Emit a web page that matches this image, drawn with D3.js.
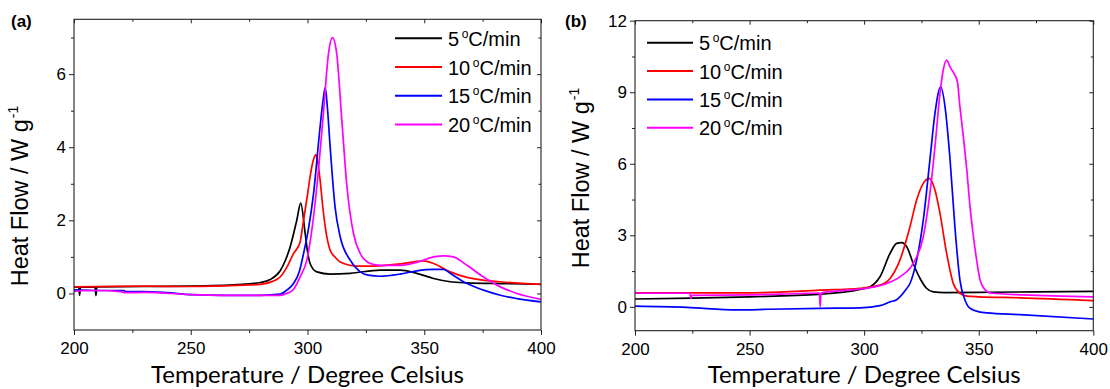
<!DOCTYPE html>
<html><head><meta charset="utf-8">
<script src="https://cdn.jsdelivr.net/npm/d3@7"></script>
<style>
body{margin:0;background:#fff}
svg{display:block}
text{font-family:Arial,"Liberation Sans",sans-serif;fill:#000}
</style>
</head><body>
<svg id="chart" width="1110" height="389"></svg>
<script>
// ---------- data ----------
const seriesLabels = ["5", "10", "15", "20"];
const seriesColors = ["#000000", "#ff0000", "#0000ff", "#ff00ff"];
const xTicks = [200, 250, 300, 350, 400];
const xMinorTicks = [225, 275, 325, 375];
const yTicksA = [0, 2, 4, 6];
const yMinorTicksA = [1, 3, 5, 7];
const yTicksB = [0, 3, 6, 9, 12];
const yMinorTicksB = [1.5, 4.5, 7.5, 10.5];

// panel (a): [temperature, heat flow]
const a5 = [[200,0.18],[202,0.17],[202.4,-0.05],[202.8,0.17],[209,0.18],[209.4,-0.06],[209.8,0.18],[230,0.19],[250,0.2],[270,0.24],[280,0.3],[284,0.38],[288.3,0.62],[290.5,0.9],[292.6,1.28],[295.4,2.0],[297.1,2.47],[299,1.64],[300,1.15],[301.1,0.82],[304,0.59],[309.7,0.53],[318.3,0.55],[331.1,0.64],[339.7,0.64],[346.8,0.55],[354,0.41],[361.1,0.32],[368.3,0.29],[382.6,0.27],[400,0.25]];
const a10 = [[200,0.18],[230,0.2],[250,0.19],[270,0.22],[279.7,0.25],[285,0.33],[288.3,0.45],[291,0.7],[294,1.09],[296.8,1.4],[298.3,2.0],[300,2.7],[301.1,3.19],[302.5,3.65],[303.6,3.8],[304.5,3.55],[305.4,3.1],[306.5,2.4],[307.6,1.82],[309.7,1.18],[312,0.98],[314,0.86],[321.1,0.75],[328.3,0.75],[339.7,0.81],[349.7,0.89],[354,0.82],[361.1,0.59],[368.3,0.44],[382.6,0.32],[400,0.25]];
const a15 = [[200,0.1],[210,0.08],[221.5,0.08],[222,0.05],[230,0.05],[240,0.02],[250,-0.03],[265,-0.05],[280,-0.05],[288.3,-0.02],[291.1,0.09],[294,0.27],[296.5,0.6],[298.3,1.09],[300.5,1.8],[302.6,2.74],[305.4,4.56],[306.7,5.3],[307.6,5.63],[308.5,5.1],[309.7,4.01],[311.8,2.37],[314,1.55],[318.3,0.91],[322.6,0.59],[326,0.5],[331.1,0.47],[339.7,0.53],[346.8,0.62],[354,0.66],[358.3,0.66],[361.1,0.55],[368.3,0.27],[375.4,0.09],[382.6,-0.05],[389.7,-0.14],[400,-0.23]];
const a20 = [[200,0.05],[205,0.08],[210,0.08],[220,0.05],[222,0.02],[230,0.03],[250,-0.03],[265,-0.05],[280,-0.05],[288.3,-0.05],[291.1,0.0],[294,0.11],[296.8,0.45],[299.7,0.91],[302,1.8],[304,2.92],[306.8,4.92],[309,6.57],[310.7,7.0],[312.5,6.57],[314.7,4.74],[316.9,2.92],[319.7,1.64],[322.6,1.09],[326.9,0.82],[331.1,0.77],[339.7,0.77],[346.8,0.85],[354,1.0],[358.3,1.03],[362.5,1.0],[368.3,0.77],[375.4,0.45],[382.6,0.18],[389.7,0.0],[400,-0.16]];

// panel (b)
const b5 = [[200,0.33],[225,0.37],[250,0.42],[280,0.52],[298.2,0.73],[302.6,0.84],[306.9,1.26],[311.3,2.24],[314.2,2.66],[316.3,2.69],[318.6,2.52],[321.4,1.82],[324.4,1.19],[327.2,0.78],[330.2,0.63],[335,0.6],[350,0.61],[375,0.63],[400,0.65]];
const b10 = [[200,0.59],[225,0.59],[251.6,0.59],[280.7,0.7],[298.2,0.78],[306.9,0.91],[311.3,1.19],[315.6,1.96],[320,3.36],[322.9,4.48],[325.8,5.18],[328.4,5.39],[330.9,4.9],[333.1,3.92],[336,2.24],[338.9,0.98],[341.8,0.57],[344.8,0.45],[350,0.42],[368,0.38],[400,0.26]];
const b15 = [[200,0.03],[222.6,-0.02],[244.4,-0.13],[258.9,-0.1],[280.7,-0.06],[298.2,-0.04],[306.9,0.05],[311.3,0.21],[314.2,0.3],[315.6,0.42],[318,0.7],[320,0.98],[322.9,1.96],[325.8,3.64],[328.7,6.16],[330.9,8.11],[333.4,9.23],[335.3,8.39],[337.5,6.16],[339.6,3.36],[341.8,1.12],[344,0.29],[346.2,-0.06],[350.6,-0.22],[353.5,-0.25],[368,-0.33],[400,-0.51]];
const b20 = [[200,0.57],[224,0.57],[224.4,0.35],[224.8,0.48],[250,0.5],[272,0.56],[280.5,0.58],[280.8,0.0],[281.2,0.58],[290,0.68],[301.1,0.78],[309.8,0.98],[315.6,1.26],[321.4,1.82],[325.8,2.94],[328.7,4.76],[330.9,6.71],[333.1,8.95],[334.5,9.93],[336,10.35],[337.5,10.05],[339.2,9.79],[340.7,9.44],[341.8,8.39],[343.3,7.13],[344.8,5.74],[346.2,4.2],[347.7,2.94],[349.1,1.96],[350.6,1.12],[352.5,0.75],[355,0.58],[370,0.5],[400,0.42]];

// ---------- drawing ----------
const svg = d3.select("#chart");

function drawPanel(cfg) {
  const x = d3.scaleLinear().domain([200, 400]).range([cfg.left, cfg.right]);
  const y = d3.scaleLinear().domain(cfg.yDomain).range([cfg.bottom, cfg.top]);
  const g = svg.append("g");
  const clipId = "clip" + cfg.id;
  g.append("clipPath").attr("id", clipId).append("rect")
    .attr("x", cfg.left).attr("y", cfg.top)
    .attr("width", cfg.right - cfg.left).attr("height", cfg.bottom - cfg.top);

  const line = d3.line().x(d => x(d[0])).y(d => y(d[1])).curve(d3.curveMonotoneX);
  const lines = g.append("g").attr("clip-path", `url(#${clipId})`);
  cfg.series.forEach((s, i) => {
    lines.append("path").attr("d", line(s)).attr("fill", "none")
      .attr("stroke", seriesColors[i]).attr("stroke-width", 1.7)
      .attr("stroke-linejoin", "round");
  });

  const axisStyle = sel => {
    sel.select(".domain").remove();
    sel.selectAll("line").attr("stroke", "#222");
    sel.selectAll("text").attr("font-size", 17).attr("fill", "#000")
      .style("font-family", "Arial, 'Liberation Sans', sans-serif");
  };
  // bottom major + minor
  g.append("g").attr("transform", `translate(0,${cfg.bottom})`)
    .call(d3.axisBottom(x).tickValues(xTicks).tickSize(5).tickPadding(7).tickFormat(d3.format("d")))
    .call(axisStyle);
  g.append("g").attr("transform", `translate(0,${cfg.bottom})`)
    .call(d3.axisBottom(x).tickValues(xMinorTicks).tickSize(3).tickFormat(""))
    .call(axisStyle);
  // top mirror (inward)
  g.append("g").attr("transform", `translate(0,${cfg.top})`)
    .call(d3.axisTop(x).tickValues(xTicks).tickSize(-4).tickFormat(""))
    .call(axisStyle);
  g.append("g").attr("transform", `translate(0,${cfg.top})`)
    .call(d3.axisTop(x).tickValues(xMinorTicks).tickSize(-2.5).tickFormat(""))
    .call(axisStyle);
  // left major + minor
  g.append("g").attr("transform", `translate(${cfg.left},0)`)
    .call(d3.axisLeft(y).tickValues(cfg.yTicks).tickSize(5).tickPadding(3).tickFormat(d3.format("d")))
    .call(axisStyle);
  g.append("g").attr("transform", `translate(${cfg.left},0)`)
    .call(d3.axisLeft(y).tickValues(cfg.yMinor).tickSize(3).tickFormat(""))
    .call(axisStyle);
  // right mirror (inward)
  g.append("g").attr("transform", `translate(${cfg.right},0)`)
    .call(d3.axisRight(y).tickValues(cfg.yTicks).tickSize(-4).tickFormat(""))
    .call(axisStyle);
  g.append("g").attr("transform", `translate(${cfg.right},0)`)
    .call(d3.axisRight(y).tickValues(cfg.yMinor).tickSize(-2.5).tickFormat(""))
    .call(axisStyle);

  // frame
  g.append("rect").attr("x", cfg.left).attr("y", cfg.top)
    .attr("width", cfg.right - cfg.left).attr("height", cfg.bottom - cfg.top)
    .attr("fill", "none").attr("stroke", "#222").attr("stroke-width", 1.1);

  // axis titles
  g.append("text").attr("x", (cfg.left + cfg.right) / 2).attr("y", 383)
    .attr("text-anchor", "middle").attr("font-size", 24)
    .attr("textLength", 313).attr("lengthAdjust", "spacingAndGlyphs")
    .style("font-family", "Lato, 'Open Sans', sans-serif")
    .text("Temperature / Degree Celsius");
  const yt = g.append("text")
    .attr("transform", `translate(${cfg.yTitleX},${cfg.yTitleY}) rotate(-90)`)
    .attr("text-anchor", "middle").attr("font-size", 23.5);
  yt.append("tspan").text("Heat Flow / W g");
  yt.append("tspan").attr("font-size", 14).attr("dy", -10).attr("dx", 1).text("-1");

  // panel label
  g.append("text").attr("x", cfg.labelX).attr("y", 27)
    .attr("font-size", 17).attr("font-weight", "bold").text(cfg.label);

  // legend
  const lg = g.append("g");
  seriesLabels.forEach((lab, i) => {
    const ry = cfg.legY + i * cfg.legStep;
    lg.append("line").attr("x1", cfg.legX1).attr("x2", cfg.legX2)
      .attr("y1", ry).attr("y2", ry)
      .attr("stroke", seriesColors[i]).attr("stroke-width", 2);
    const t = lg.append("text").attr("x", cfg.legX2 + 6).attr("y", ry + 7.5)
      .attr("font-size", 20);
    t.append("tspan").text(lab);
    t.append("tspan").attr("font-size", 12).attr("dx", 2.5).attr("dy", -8).text("o");
    t.append("tspan").attr("dy", 8).text("C/min");
  });
}

drawPanel({
  id: "a", left: 74, right: 541, top: 19.3, bottom: 330, yDomain: [-1, 7.5],
  yTicks: yTicksA, yMinor: yMinorTicksA, series: [a5, a10, a15, a20],
  yTitleX: 28, yTitleY: 196, label: "(a)", labelX: 11,
  legX1: 395, legX2: 442, legY: 38.3, legStep: 28.7
});
drawPanel({
  id: "b", left: 635, right: 1093.3, top: 20.7, bottom: 330.7, yDomain: [-1, 12],
  yTicks: yTicksB, yMinor: yMinorTicksB, series: [b5, b10, b15, b20],
  yTitleX: 589, yTitleY: 178, label: "(b)", labelX: 565,
  legX1: 647, legX2: 693, legY: 42.7, legStep: 28.35
});
</script>
</body></html>
